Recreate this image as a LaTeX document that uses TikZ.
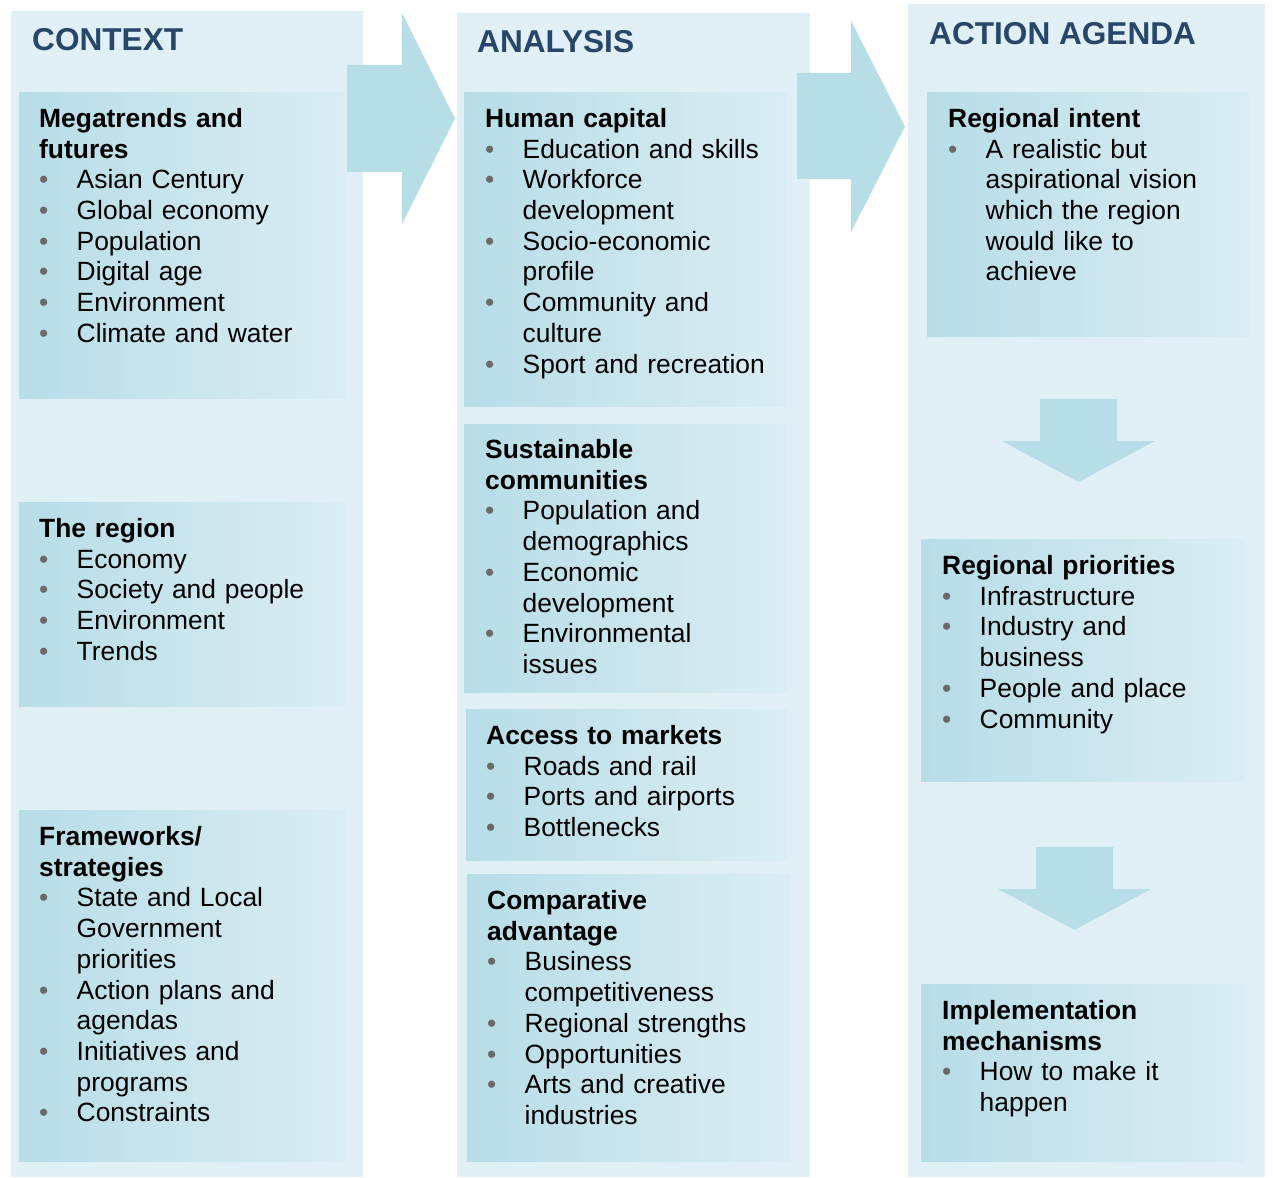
\documentclass[tikz,border=0pt]{standalone}
\usepackage{fontspec}
\setmainfont{Liberation Sans}
\definecolor{colbg}{HTML}{E1F0F6}
\definecolor{boxL}{HTML}{B7DDE7}
\definecolor{boxR}{HTML}{DBEDF4}
\definecolor{arr}{HTML}{B7DDE7}
\definecolor{ttl}{HTML}{27466A}
\definecolor{bul}{HTML}{6A6A6A}
\newlength\bulind \setlength\bulind{37.5pt}
\newcommand\itm{\makebox[\bulind][l]{\textcolor{bul}{•}}}
\newcommand\cnt{\hspace*{\bulind}}
\begin{document}
\begin{tikzpicture}[x=1pt,y=-1pt,
  colbox/.style={fill=colbg, draw=none, inner sep=0pt, outer sep=0pt, anchor=north west},
  gradbox/.style={left color=boxL, right color=boxR, draw=none, inner sep=0pt, outer sep=0pt, anchor=north west},
  arrowshape/.style={fill=arr, draw=none},
  ttlstyle/.style={anchor=base west, inner sep=0pt, text=ttl, font=\fontsize{31.6}{36}\selectfont\bfseries},
  txt/.style={anchor=base west, inner sep=0pt, text width=400pt, align=left, font=\fontsize{26.4}{30.7}\selectfont}]
\useasboundingbox (0,0) rectangle (1273,1177);
\fill[white] (0,0) rectangle (1273,1177);

% columns
\node[colbox, minimum width=352pt, minimum height=1166pt] (ctx) at (11,11) {};
\node[colbox, minimum width=353pt, minimum height=1164pt] (ana) at (457,13) {};
\node[colbox, minimum width=357pt, minimum height=1173pt] (act) at (908,4) {};

% titles
\node[ttlstyle] (tctx) at (32,51) {CONTEXT};
\node[ttlstyle] (tana) at (477,53) {ANALYSIS};
\node[ttlstyle] (tact) at (929,45) {ACTION AGENDA};

% boxes
\node[gradbox, minimum width=326pt, minimum height=305pt] (mega) at (19,93) {};
\node[gradbox, minimum width=326pt, minimum height=204pt] (region) at (19,502) {};
\node[gradbox, minimum width=326pt, minimum height=351pt] (frame) at (19,810) {};
\node[gradbox, minimum width=323pt, minimum height=313pt] (human) at (464,93) {};
\node[gradbox, minimum width=323pt, minimum height=268pt] (sust) at (464,424) {};
\node[gradbox, minimum width=321pt, minimum height=151pt] (access) at (466,709) {};
\node[gradbox, minimum width=323pt, minimum height=287pt] (comp) at (467,874) {};
\node[gradbox, minimum width=322pt, minimum height=243pt] (intent) at (927,93) {};
\node[gradbox, minimum width=323pt, minimum height=242pt] (prio) at (921,539) {};
\node[gradbox, minimum width=323pt, minimum height=177pt] (impl) at (921,984) {};

% arrows
\fill[arrowshape] (347,65) -- (402,65) -- (402,13) -- (455,118.5) -- (402,224) -- (402,172) -- (347,172) -- cycle;
\fill[arrowshape] (797,73) -- (851,73) -- (851,21) -- (905,126.5) -- (851,232) -- (851,179) -- (797,179) -- cycle;
\fill[arrowshape] (1040,399) -- (1117,399) -- (1117,441) -- (1155,441) -- (1078.5,482) -- (1002,441) -- (1040,441) -- cycle;
\fill[arrowshape] (1036,847) -- (1113,847) -- (1113,889) -- (1151,889) -- (1074.5,930) -- (998,889) -- (1036,889) -- cycle;

% texts
\node[txt] (megat) at (39,127.5) {\textbf{Megatrends and}\\\textbf{futures}\\
\itm Asian Century\\\itm Global economy\\\itm Population\\\itm Digital age\\\itm Environment\\\itm Climate and water};
\node[txt] (regiont) at (39,537.5) {\textbf{The region}\\
\itm Economy\\\itm Society and people\\\itm Environment\\\itm Trends};
\node[txt] (framet) at (39,845.5) {\textbf{Frameworks/}\\\textbf{strategies}\\
\itm State and Local\\\cnt Government\\\cnt priorities\\\itm Action plans and\\\cnt agendas\\\itm Initiatives and\\\cnt programs\\\itm Constraints};
\node[txt] (humant) at (485,127.5) {\textbf{Human capital}\\
\itm Education and skills\\\itm Workforce\\\cnt development\\\itm Socio-economic\\\cnt profile\\\itm Community and\\\cnt culture\\\itm Sport and recreation};
\node[txt] (sustt) at (485,458.5) {\textbf{Sustainable}\\\textbf{communities}\\
\itm Population and\\\cnt demographics\\\itm Economic\\\cnt development\\\itm Environmental\\\cnt issues};
\node[txt] (accesst) at (486,744.5) {\textbf{Access to markets}\\
\itm Roads and rail\\\itm Ports and airports\\\itm Bottlenecks};
\node[txt] (compt) at (487,909.5) {\textbf{Comparative}\\\textbf{advantage}\\
\itm Business\\\cnt competitiveness\\\itm Regional strengths\\\itm Opportunities\\\itm Arts and creative\\\cnt industries};
\node[txt] (intentt) at (948,127.5) {\textbf{Regional intent}\\
\itm A realistic but\\\cnt aspirational vision\\\cnt which the region\\\cnt would like to\\\cnt achieve};
\node[txt] (priot) at (942,574.5) {\textbf{Regional priorities}\\
\itm Infrastructure\\\itm Industry and\\\cnt business\\\itm People and place\\\itm Community};
\node[txt] (implt) at (942,1019.5) {\textbf{Implementation}\\\textbf{mechanisms}\\
\itm How to make it\\\cnt happen};
\end{tikzpicture}
\end{document}
